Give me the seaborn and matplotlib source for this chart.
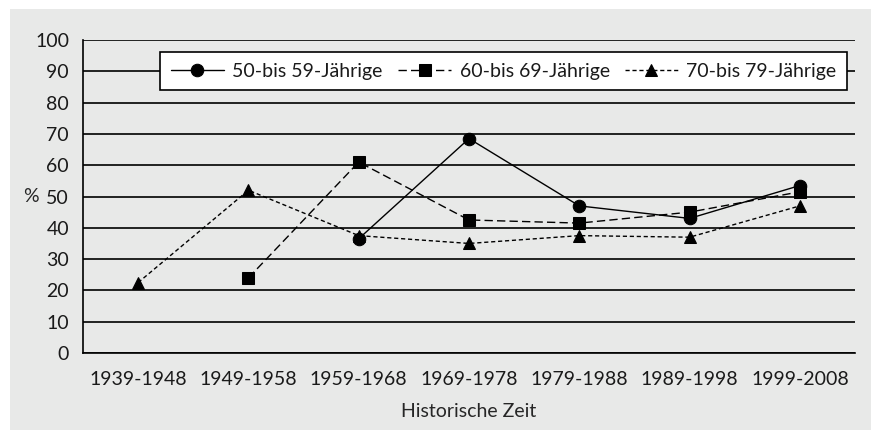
import numpy as np
import pandas as pd
import matplotlib
matplotlib.use('Agg')
import matplotlib.pyplot as plt
import seaborn as sns
from matplotlib.patches import Rectangle

sns.set_style('white')
plt.rcParams['font.family'] = ['Lato', 'DejaVu Sans']
plt.rcParams['text.color'] = '#1a1a1a'
plt.rcParams['xtick.labelcolor'] = '#1a1a1a'
plt.rcParams['ytick.labelcolor'] = '#1a1a1a'

zeit = ['1939-1948', '1949-1958', '1959-1968', '1969-1978',
        '1979-1988', '1989-1998', '1999-2008']
g50 = [np.nan, np.nan, 36.5, 68.5, 47.0, 43.0, 53.5]
g60 = [np.nan, 24.0, 61.0, 42.5, 41.5, 45.0, 51.5]
g70 = [22.5, 52.0, 37.5, 35.0, 37.5, 37.0, 47.0]
gruppen = ['50-bis 59-Jährige', '60-bis 69-Jährige', '70-bis 79-Jährige']

df = pd.DataFrame({'zeit': zeit * 3,
                   'wert': g50 + g60 + g70,
                   'gruppe': np.repeat(gruppen, len(zeit))})
df['x'] = np.tile(np.arange(len(zeit)), 3)

fig = plt.figure(figsize=(8.71, 4.30), dpi=100)
fig.patch.set_facecolor('white')
fig.patches.append(Rectangle((10 / 871, 0), 1, 1 - 9 / 430, transform=fig.transFigure,
                             facecolor='#e8e9e8', edgecolor='none', zorder=-10))
ax = fig.add_axes([83 / 871, 77 / 430, 772 / 871, 313 / 430])
ax.set_facecolor('#e8e9e8')

stile = {'50-bis 59-Jährige': dict(ls='-', marker='o', ms=9),
         '60-bis 69-Jährige': dict(ls=(0, (6, 3)), marker='s', ms=9),
         '70-bis 79-Jährige': dict(ls=(0, (3, 2)), marker='^', ms=9)}
for g in gruppen:
    d = df[df['gruppe'] == g]
    s = stile[g]
    sns.lineplot(data=d, x='x', y='wert', ax=ax, color='black', lw=1,
                 linestyle=s['ls'], marker=s['marker'], markersize=s['ms'],
                 markeredgecolor='black', markerfacecolor='black', label=g)

ax.set_xlim(-0.5, len(zeit) - 0.5)
ax.set_ylim(0, 100)
ax.set_yticks(range(0, 101, 10))
ax.set_xticks(range(len(zeit)))
ax.set_xticklabels(zeit)
ax.set_xticks(np.arange(-0.5, len(zeit), 1), minor=True)
ax.tick_params(axis='x', which='major', length=0, pad=13, labelsize=14)
ax.tick_params(axis='x', which='minor', length=6, width=1.2, color='black', direction='out')
ax.tick_params(axis='y', length=7, width=1.2, color='black', direction='out', labelsize=14, pad=3)
ax.yaxis.grid(True, color='black', lw=1.2)
ax.set_axisbelow(True)
for sp in ['top', 'right']:
    ax.spines[sp].set_visible(False)
for sp in ['left', 'bottom']:
    ax.spines[sp].set_color('black')
    ax.spines[sp].set_linewidth(1.2)

ax.set_xlabel('Historische Zeit', fontsize=14, labelpad=11)
ax.set_ylabel('%', fontsize=14, rotation=0, va='center', ha='center')
ax.yaxis.set_label_coords(-0.068, 0.5)

leg = ax.legend(loc='upper right', bbox_to_anchor=(0.99, 0.962), ncol=3, frameon=True,
                fancybox=False, edgecolor='black', facecolor='white', framealpha=1,
                fontsize=14, handlelength=2.7, columnspacing=0.8, borderpad=0.55,
                handletextpad=0.45, borderaxespad=0)
leg.get_frame().set_linewidth(1.2)

fig.savefig('out.png', dpi=100)
